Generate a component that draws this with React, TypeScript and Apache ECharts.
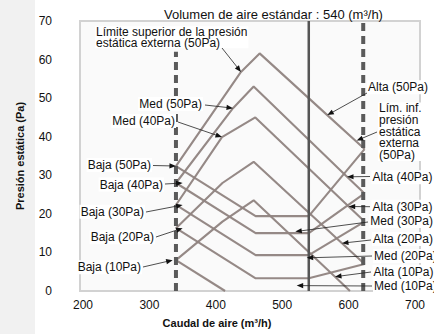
import React, { useEffect, useRef } from "react";
import * as echarts from "echarts";

// ---- axis ticks ----
const yTicks = [0, 10, 20, 30, 40, 50, 60, 70];
const xTickLabels = [200, 300, 400, 500, 600, 700];

// ---- reference airflows (m³/h) ----
const minAirflow = 340;
const maxAirflow = 622;
const standardAirflow = 540;

// ---- upper branches: Límite superior / Alta curves, per ESP setting ----
const upper50 = [[340, 32.4], [437.9, 56.8], [466, 61.6], [567.9, 45.6], [624, 36.8]];
const upper40 = [[340, 28], [425.9, 47.4], [457, 53], [597.6, 29.6], [624, 25.3]];
const upper30 = [[340, 22.3], [409.3, 39.9], [459.5, 45], [600.1, 21.9], [624, 18]];
const upper20 = [[340, 16.3], [410, 28], [457, 33.5], [590, 12.4], [624, 7]];
const upper10 = [[340, 8], [410, 18], [457, 23.5], [579.5, 3.7], [602, 0]];

// ---- lower branches: Baja / Med curves, closing on the lower limit ----
const lower50 = [[340, 32.4], [460, 19.4], [540, 19.4], [624, 36.8]];
const lower40 = [[340, 28], [460, 15], [540, 15], [624, 25.3]];
const lower30 = [[340, 22.3], [460, 9.3], [540, 9.3], [624, 18]];
const lower20 = [[340, 16.3], [460, 3.3], [540, 3.3], [624, 7]];
const lower10 = [[340, 8], [414, 0]];

// ---- annotations: text, arrow tip (data), label anchor & arrow start (px layout) ----
const annotations = [
  { text: "Límite superior de la presión\nestática externa (50Pa)", tip: [437.9, 56.8], lx: 95, ly: 37.2, align: "left", lh: 11, sx: 222, sy: 48 },
  { text: "Med (50Pa)", tip: [425.9, 47.4], lx: 203, ly: 104, align: "right", lh: 14, sx: 205, sy: 105 },
  { text: "Med (40Pa)", tip: [409.3, 39.9], lx: 176, ly: 121, align: "right", lh: 14, sx: 178, sy: 122 },
  { text: "Baja (50Pa)", tip: [340, 32.4], lx: 152, ly: 165, align: "right", lh: 14, sx: 153, sy: 165.5 },
  { text: "Baja (40Pa)", tip: [350, 28], lx: 164, ly: 184.5, align: "right", lh: 14, sx: 165, sy: 184 },
  { text: "Baja (30Pa)", tip: [350, 22.3], lx: 145, ly: 211.7, align: "right", lh: 14, sx: 146, sy: 212 },
  { text: "Baja (20Pa)", tip: [350, 16.3], lx: 155, ly: 237.3, align: "right", lh: 14, sx: 156, sy: 237 },
  { text: "Baja (10Pa)", tip: [335, 8], lx: 142, ly: 267.3, align: "right", lh: 14, sx: 143, sy: 267 },
  { text: "Alta (50Pa)", tip: [567.9, 45.6], lx: 367, ly: 87.3, align: "left", lh: 14, sx: 367, sy: 93 },
  { text: "Lím. inf.\npresión\nestática\nexterna\n(50Pa)", tip: [612.2, 39], lx: 378, ly: 131.7, align: "left", lh: 11.7, sx: 377, sy: 132 },
  { text: "Alta (40Pa)", tip: [597.6, 29.6], lx: 371.5, ly: 177.3, align: "left", lh: 14, sx: 370, sy: 176.5 },
  { text: "Alta (30Pa)", tip: [600.1, 21.9], lx: 371.5, ly: 206.7, align: "left", lh: 14, sx: 370, sy: 206.7 },
  { text: "Med (30Pa)", tip: [519.7, 15.4], lx: 369.3, ly: 221, align: "left", lh: 14, sx: 368, sy: 222 },
  { text: "Alta (20Pa)", tip: [590, 12.4], lx: 372, ly: 239, align: "left", lh: 14, sx: 371, sy: 240 },
  { text: "Med (20Pa)", tip: [536.9, 8.6], lx: 373, ly: 256, align: "left", lh: 14, sx: 372, sy: 256 },
  { text: "Alta (10Pa)", tip: [579.5, 3.7], lx: 372.5, ly: 271.7, align: "left", lh: 14, sx: 371, sy: 272 },
  { text: "Med (10Pa)", tip: [521.8, 1.4], lx: 373, ly: 286, align: "left", lh: 14, sx: 372, sy: 286 },
];

const FONT = '"Liberation Sans", Arial, Helvetica, sans-serif';

export default function App() {
  const ref = useRef<HTMLDivElement>(null);

  useEffect(() => {
    if (!ref.current) return;
    const chart = echarts.init(ref.current, null, { renderer: "svg" });

    const curveStyle = { color: "#8f8380", width: 2.1, opacity: 0.95 };
    const curve = (name: string, data: number[][]) => ({
      type: "line",
      name,
      data,
      symbol: "none",
      showSymbol: false,
      silent: true,
      z: 2,
      lineStyle: curveStyle,
    });

    chart.setOption({
      animation: false,
      backgroundColor: "#ffffff",
      textStyle: { fontFamily: FONT },
      title: {
        text: "Volumen de aire estándar : 540 (m³/h)",
        left: 159,
        top: 3,
        textStyle: { fontSize: 13, fontWeight: "normal", color: "#111", fontFamily: FONT },
      },
      grid: {
        left: 80,
        right: 14,
        top: 21,
        bottom: 43,
        show: true,
        backgroundColor: "#fafafa",
        borderColor: "#d2d2d2",
        borderWidth: 2,
      },
      xAxis: {
        type: "value",
        min: 195.5,
        max: 707.5,
        name: "Caudal de aire (m³/h)",
        nameLocation: "middle",
        nameGap: 26,
        nameTextStyle: { fontSize: 11, fontWeight: "bold", color: "#111", padding: [0, 66, 0, 0], fontFamily: FONT },
        axisLine: { show: false },
        axisTick: { show: false },
        splitLine: { show: false },
        axisLabel: { customValues: xTickLabels, fontSize: 12, color: "#111", margin: 8, fontFamily: FONT },
      },
      yAxis: {
        type: "value",
        min: yTicks[0],
        max: yTicks[yTicks.length - 1],
        interval: 10,
        name: "Presión estática (Pa)",
        nameLocation: "middle",
        nameGap: 55,
        nameTextStyle: { fontSize: 11, fontWeight: "bold", color: "#111", fontFamily: FONT },
        axisLine: { show: false },
        axisTick: { show: false },
        splitLine: { show: false },
        axisLabel: { fontSize: 12, color: "#111", margin: 28, fontFamily: FONT },
      },
      series: [
        curve("Límite superior / Alta (50Pa)", upper50),
        curve("Alta (40Pa)", upper40),
        curve("Alta (30Pa)", upper30),
        curve("Alta (20Pa)", upper20),
        curve("Alta (10Pa)", upper10),
        curve("Baja / Med (50Pa)", lower50),
        curve("Baja / Med (40Pa)", lower40),
        curve("Baja / Med (30Pa)", lower30),
        curve("Baja / Med (20Pa)", lower20),
        curve("Baja / Med (10Pa)", lower10),
        {
          type: "line",
          name: "min",
          data: [[minAirflow, 0], [minAirflow, 62]],
          symbol: "none",
          silent: true,
          z: 3,
          lineStyle: { color: "#5a5a5a", width: 4, type: [8, 5] },
        },
        {
          type: "line",
          name: "max",
          data: [[maxAirflow, 0], [maxAirflow, 70]],
          symbol: "none",
          silent: true,
          z: 3,
          lineStyle: { color: "#5a5a5a", width: 4, type: [8, 5] },
        },
        {
          type: "line",
          name: "std",
          data: [[standardAirflow, 0], [standardAirflow, 70]],
          symbol: "none",
          silent: true,
          z: 3,
          lineStyle: { color: "#555555", width: 2.5 },
        },
      ],
    });

    const elements: any[] = [
      { type: "rect", z: -10, shape: { x: 0, y: 0, width: 35, height: 334 }, style: { fill: "#f1f1f1" }, silent: true },
    ];
    annotations.forEach((a) => {
      const p = chart.convertToPixel({ gridIndex: 0 }, a.tip) as number[];
      const tx = p[0];
      const ty = p[1];
      const dx = tx - a.sx;
      const dy = ty - a.sy;
      const len = Math.sqrt(dx * dx + dy * dy) || 1;
      const ux = dx / len;
      const uy = dy / len;
      const L = 6.5;
      const W = 2.6;
      const bx = tx - ux * L;
      const by = ty - uy * L;
      elements.push({
        type: "text",
        z: 19,
        silent: true,
        x: a.lx,
        y: a.ly,
        style: {
          text: a.text,
          fill: "#111",
          font: `12px ${FONT}`,
          align: a.align,
          verticalAlign: "middle",
          lineHeight: a.lh,
          backgroundColor: "#ffffff",
          padding: [0, 1],
        },
      });
      elements.push({
        type: "line",
        z: 20,
        silent: true,
        shape: { x1: a.sx, y1: a.sy, x2: bx + ux, y2: by + uy },
        style: { stroke: "#222", lineWidth: 0.8 },
      });
      elements.push({
        type: "polygon",
        z: 20,
        silent: true,
        shape: { points: [[tx, ty], [bx - uy * W, by + ux * W], [bx + uy * W, by - ux * W]] },
        style: { fill: "#111" },
      });
    });
    chart.setOption({ graphic: elements });

    return () => chart.dispose();
  }, []);

  return (
    <div
      ref={ref}
      style={{ position: "fixed", left: 0, top: 0, width: 434, height: 334, background: "#fff" }}
    />
  );
}
